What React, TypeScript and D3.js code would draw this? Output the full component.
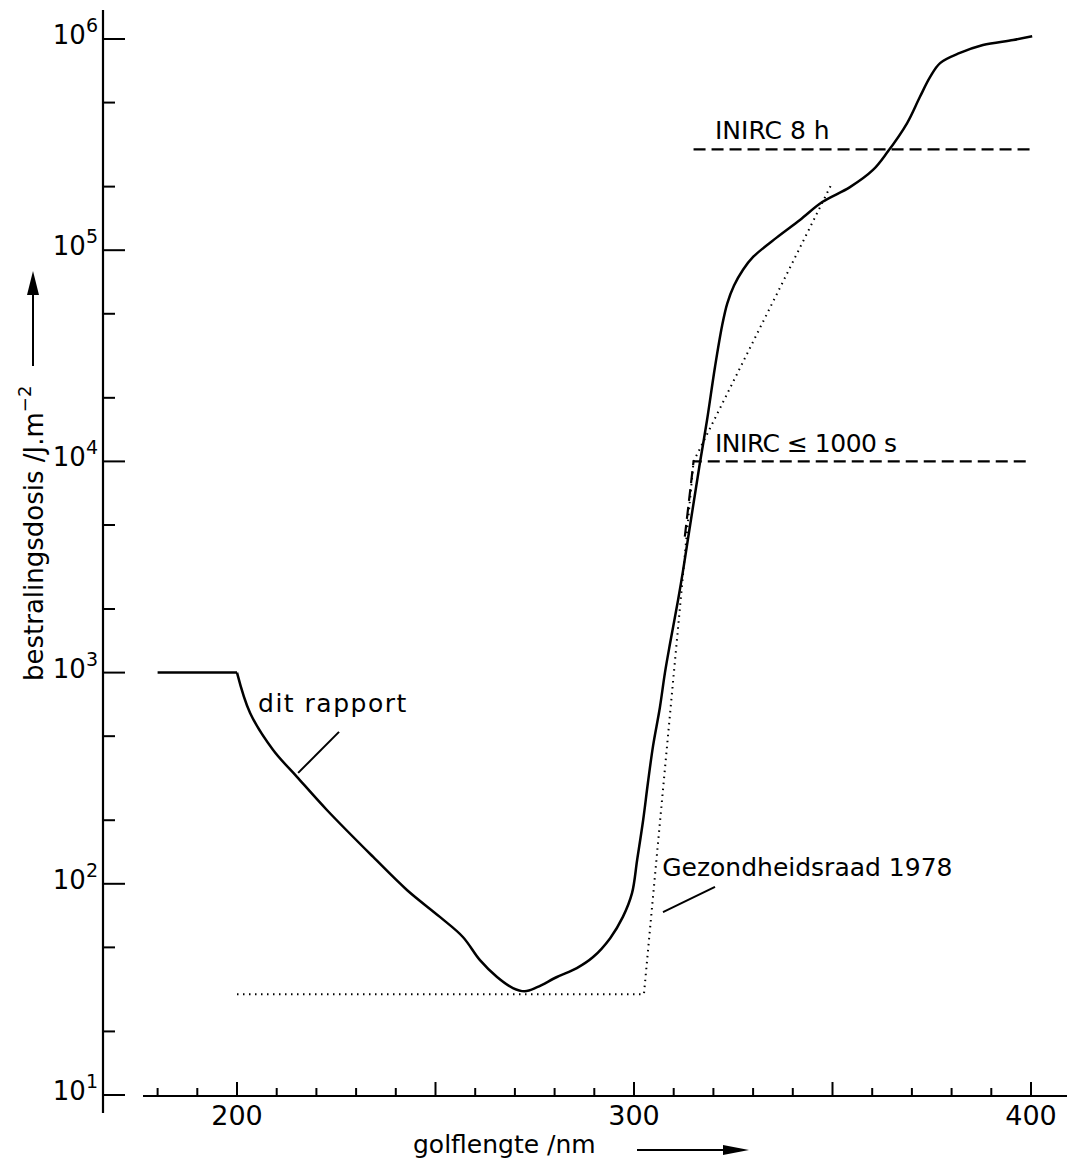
import React, { useEffect, useRef } from 'react';
import * as d3 from 'd3';

// "dit rapport" curve: [golflengte nm, bestralingsdosis J/m2]
const ditRapportFlat: [number, number][] = [[180, 1000], [200, 1000]];
const ditRapport: [number, number][] = [
  [200, 1000], [203.3, 644], [209.1, 430], [215.1, 321], [222.7, 223],
  [234.3, 134], [242.8, 93.5], [251.1, 69.7], [256.9, 56], [261.2, 43.5], [265.5, 36.2],
  [269.5, 32.1], [272.5, 31], [275.6, 32.4], [280.6, 36.2], [285.6, 39.9], [289.7, 45],
  [294, 55.3], [297.2, 69.7], [299.5, 90.3], [300.8, 130], [302.3, 200], [303.5, 300],
  [304.8, 450], [306.5, 680], [307.8, 1000], [309.1, 1380], [311.1, 2208], [312.3, 3000],
  [313.6, 4300], [316.6, 9820], [318.4, 15700], [320.4, 28000], [322.2, 44000], [323.5, 56000],
  [325.2, 68000], [327.5, 81000], [330, 92900], [336, 115000], [341.8, 139000], [347.4, 169000],
  [354.4, 199000], [360.2, 240000], [363.7, 289000], [368.8, 400000], [372, 531000], [374.6, 661000],
  [377.1, 769000], [382.1, 859000], [387.9, 937000], [395.5, 989000], [400.3, 1030000]
];

// Gezondheidsraad 1978 (dotted)
const gezondheidsraad: [number, number][] = [
  [200, 30], [302.5, 30], [315, 10000], [350, 210000]
];

// INIRC limits (dashed)
const inirc8h: [number, number][] = [[315, 300000], [400, 300000]];
const inirc1000s: [number, number][] = [[312.8, 4400], [315, 10000], [400, 10000]];

const xMajor = [200, 250, 300, 350, 400];
const xMinor = [180, 190, 210, 220, 230, 240, 260, 270, 280, 290, 310, 320, 330, 340, 360, 370, 380, 390];
const xLabels = [200, 300, 400];
const yDecades = [1, 2, 3, 4, 5, 6];

const FONT = 'DejaVu Sans';

export default function App() {
  const ref = useRef<SVGSVGElement>(null);

  useEffect(() => {
    const svg = d3.select(ref.current);
    svg.selectAll('*').remove();

    const x = d3.scaleLinear().domain([200, 400]).range([237, 1031]);
    const y = d3.scaleLog().domain([10, 1e6]).range([1095, 39]);
    const axisX = 103;
    const axisY = 1096;

    const g = svg.append('g');

    // y axis
    g.append('line').attr('x1', axisX).attr('x2', axisX).attr('y1', 10).attr('y2', 1113)
      .attr('stroke', '#000').attr('stroke-width', 2.2);
    yDecades.forEach(p => {
      const v = Math.pow(10, p);
      g.append('line').attr('x1', axisX).attr('x2', axisX + 22).attr('y1', y(v)).attr('y2', y(v))
        .attr('stroke', '#000').attr('stroke-width', 2);
      if (p < 6) {
        [2, 5].forEach(m => {
          g.append('line').attr('x1', axisX).attr('x2', axisX + 12)
            .attr('y1', y(m * v)).attr('y2', y(m * v))
            .attr('stroke', '#000').attr('stroke-width', 2);
        });
      }
      const t = g.append('text').attr('x', 98).attr('y', y(v) + 5)
        .attr('text-anchor', 'end').attr('font-family', FONT).attr('font-size', 26);
      t.append('tspan').text('10');
      t.append('tspan').attr('dy', -12).attr('font-size', 19).text(String(p));
    });

    // x axis
    g.append('line').attr('x1', 143).attr('x2', 1067).attr('y1', axisY).attr('y2', axisY)
      .attr('stroke', '#000').attr('stroke-width', 2.2);
    xMajor.forEach(v => {
      g.append('line').attr('x1', x(v)).attr('x2', x(v)).attr('y1', axisY).attr('y2', axisY - 14)
        .attr('stroke', '#000').attr('stroke-width', 2);
    });
    xMinor.forEach(v => {
      g.append('line').attr('x1', x(v)).attr('x2', x(v)).attr('y1', axisY).attr('y2', axisY - 8)
        .attr('stroke', '#000').attr('stroke-width', 2);
    });
    xLabels.forEach(v => {
      g.append('text').attr('x', x(v)).attr('y', 1125).attr('text-anchor', 'middle')
        .attr('font-family', FONT).attr('font-size', 27).text(String(v));
    });

    // axis titles with arrows
    g.append('text').attr('x', 413).attr('y', 1153).attr('font-family', FONT).attr('font-size', 25)
      .text('golflengte /nm');
    g.append('line').attr('x1', 637).attr('x2', 726).attr('y1', 1150).attr('y2', 1150)
      .attr('stroke', '#000').attr('stroke-width', 2);
    g.append('path').attr('d', 'M723,1145 L749,1150 L723,1155 Z').attr('fill', '#000');

    const yt = g.append('text').attr('transform', 'translate(43,681) rotate(-90)')
      .attr('font-family', FONT).attr('font-size', 26);
    yt.append('tspan').text('bestralingsdosis /J.m');
    yt.append('tspan').attr('dy', -12).attr('font-size', 18).text('−2');
    g.append('line').attr('x1', 33).attr('x2', 33).attr('y1', 366).attr('y2', 292)
      .attr('stroke', '#000').attr('stroke-width', 2);
    g.append('path').attr('d', 'M27,295 L33,271 L39,295 Z').attr('fill', '#000');

    const smooth = d3.line<[number, number]>().x(d => x(d[0])).y(d => y(d[1]))
      .curve(d3.curveCatmullRom.alpha(0.5));
    const straight = d3.line<[number, number]>().x(d => x(d[0])).y(d => y(d[1]));

    // curves
    g.append('path').attr('d', straight(ditRapportFlat) as string)
      .attr('fill', 'none').attr('stroke', '#000').attr('stroke-width', 2.5);
    g.append('path').attr('d', smooth(ditRapport) as string)
      .attr('fill', 'none').attr('stroke', '#000').attr('stroke-width', 2.5)
      .attr('stroke-linejoin', 'round');

    g.append('path').attr('d', straight(gezondheidsraad) as string)
      .attr('fill', 'none').attr('stroke', '#000').attr('stroke-width', 2)
      .attr('stroke-dasharray', '1.5 4.5');
    g.append('path').attr('d', straight(inirc8h) as string)
      .attr('fill', 'none').attr('stroke', '#000').attr('stroke-width', 2.2)
      .attr('stroke-dasharray', '12 6');
    g.append('path').attr('d', straight(inirc1000s) as string)
      .attr('fill', 'none').attr('stroke', '#000').attr('stroke-width', 2.2)
      .attr('stroke-dasharray', '12 6');

    // annotations
    const label = (txt: string, nm: number, v: number, sp = 0) =>
      g.append('text').attr('x', x(nm)).attr('y', y(v)).attr('font-family', FONT)
        .attr('font-size', 25).attr('letter-spacing', sp).text(txt);
    label('INIRC 8 h', 320.4, 336000);
    label('INIRC ≤ 1000 s', 320.4, 11100, -0.5);
    label('dit rapport', 205.3, 650, 1.5);
    label('Gezondheidsraad 1978', 307.1, 109);

    const leader = (a: [number, number], b: [number, number]) =>
      g.append('line').attr('x1', x(a[0])).attr('y1', y(a[1])).attr('x2', x(b[0])).attr('y2', y(b[1]))
        .attr('stroke', '#000').attr('stroke-width', 2);
    leader([225.7, 524], [215.4, 335]);
    leader([320.4, 96.6], [307.3, 73.5]);
  }, []);

  return (
    <svg ref={ref} width={1067} height={1164}
      style={{ position: 'absolute', left: 0, top: 0, background: '#fff' }} />
  );
}
